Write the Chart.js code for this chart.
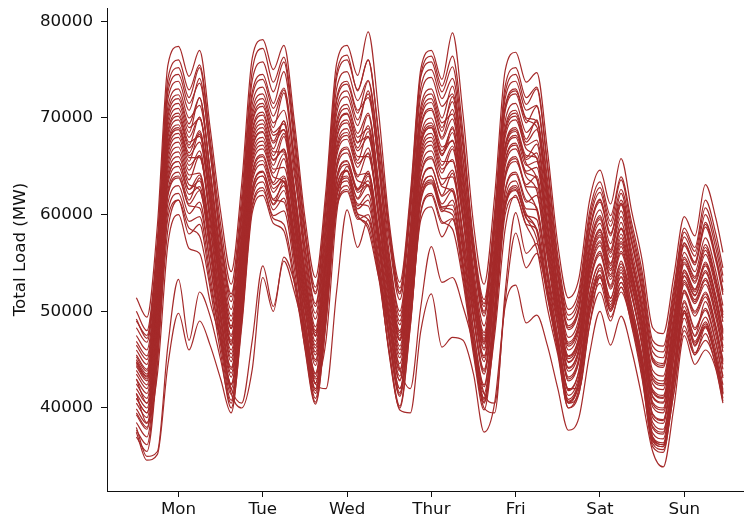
<!DOCTYPE html>
<html>
<head>
<meta charset="utf-8">
<script src="https://cdn.jsdelivr.net/npm/chart.js@4/dist/chart.umd.min.js"></script>
<style>
html,body{margin:0;padding:0;background:#ffffff;}
#wrap{width:744px;height:519px;}
</style>
</head>
<body>
<div id="wrap"><canvas id="c" width="744" height="519"></canvas></div>
<script>
// hour of the week (Mon 00:00 = 0)
const hours = [0,3,6,9,12,15,18,21,24,27,30,33,36,39,42,45,48,51,54,57,60,63,66,69,72,75,78,81,84,87,90,93,96,99,102,105,108,111,114,117,120,123,126,129,132,135,138,141,144,147,150,153,156,159,162,165,167];
const dayLabels = ['Mon','Tue','Wed','Thur','Fri','Sat','Sun'];
const dayTickHours = [12,36,60,84,108,132,156];
const yTicks = [40000,50000,60000,70000,80000];

// one array per week: total load (MW)
const wk01 = [51400,49400,58900,75500,77400,74300,77000,69000, 60300,54100,63200,76200,78100,75000,77500,69600, 59700,53500,62600,75600,77500,74400,78900,70500, 59200,53000,62100,75100,77000,74000,78800,70400, 59000,52800,61900,74900,76800,73700,74700,66800, 56900,51400,53400,61400,64600,61100,65800,60400, 55300,48300,47700,53600,59800,57800,63100,59600,56100];
const wk02 = [50000,48000,57500,74100,76000,72900,75500,67900, 59000,52800,61900,74900,77200,73700,76300,68600, 58700,52500,61600,74600,76500,72800,76000,68400, 58000,51800,60900,74300,75800,72700,75300,67600, 57400,51200,60300,73300,75200,72100,73200,65500, 55700,50200,52200,60200,63400,59900,63900,59200, 54100,47000,46400,52400,58600,56600,61500,58000,54500];
const wk03 = [49200,47200,56700,73300,75200,72100,75200,67300, 58000,51800,60900,73900,75800,72700,75800,67900, 58200,52000,61100,74100,76000,72900,76000,68100, 58600,52400,61500,74500,76400,73300,76400,68500, 56700,50500,59600,72600,74500,71400,73000,65000, 55100,49600,51600,59600,62800,59300,63600,58600, 53500,46400,45800,51900,58200,56200,60700,57200,53700];
const wk04 = [49000,47500,56700,72700,74500,71500,73600,66500, 57000,51000,59700,72200,74000,71000,73100,66000, 57800,51800,60500,73000,74800,71800,73900,66800, 58000,52000,60700,73200,75000,72000,74100,67000, 56800,50800,59500,72000,73800,70800,71300,63800, 54600,49100,51100,59100,62300,58800,62600,58100, 52900,45800,45200,51400,57700,55700,60000,56500,53000];
const wk05 = [48300,46800,56000,72000,73800,70800,74100,66400, 57500,51500,60200,72700,74500,71500,74800,67100, 56500,50500,59200,71700,73500,70500,73800,66100, 56000,50000,58700,71200,73000,70000,73300,65600, 55500,49500,58200,70700,72500,69500,71200,63100, 53600,48100,50100,58100,61300,57800,62200,57100, 51900,44800,44200,50400,56800,54800,58700,55200,51700];
const wk06 = [47500,46000,55200,71200,73000,70000,71300,64600, 55500,49500,58200,70700,72500,69500,70800,64100, 56800,50800,59500,72000,73800,70800,72100,65400, 57200,51200,59900,72400,74200,71200,72500,65800, 56000,50000,58700,71200,73000,70000,69700,62600, 54000,48500,50500,58400,61600,58100,61500,57400, 52300,45200,44600,50800,57100,55100,59200,55700,52200];
const wk07 = [46900,45400,54600,70600,72400,69400,72100,64700, 56200,50200,58900,71400,73200,70200,72900,65500, 55800,49800,58500,71000,72800,69800,72500,65100, 55000,49000,57700,70200,72000,69000,71700,64300, 54500,48500,57200,69700,71500,68500,69600,61800, 52800,47300,49300,57300,60500,57000,61100,56300, 51100,43900,43300,49600,56100,54100,57600,54100,50600];
const wk08 = [46500,45000,54200,70200,72000,69000,69900,63400, 54500,48500,57200,69700,71500,68500,69400,62900, 54000,48000,56700,69200,71000,68000,68900,62400, 55500,49500,58200,70700,72500,69500,70400,63900, 55800,49800,58500,71000,72800,69800,69100,62200, 53800,48300,50300,58300,61500,58000,61200,57300, 52100,45000,44400,50600,57000,55000,59000,55500,52000];
const wk09 = [46000,44500,53700,69700,71500,68500,72100,64300, 55000,49000,57700,70200,72000,69000,72600,64800, 55200,49200,57900,70400,72200,69200,72800,65000, 54600,48600,57300,69800,71600,68600,72200,64400, 53800,47800,56500,69000,70800,67800,69800,61600, 52300,46800,48800,56700,59900,56400,61000,55700, 50500,43400,42800,49100,55600,53600,56900,53400,49900];
const wk10 = [45500,44000,53200,69200,71000,68000,70100,63000, 53600,47600,56300,68800,70600,67600,69700,62600, 54400,48400,57100,69600,71400,68400,70500,63400, 53800,47800,56500,69000,70800,67800,69900,62800, 53200,47200,55900,68400,70200,67200,67700,60200, 51900,46400,48400,56300,59500,56000,59800,55300, 50100,42900,42300,48600,55100,53100,56300,52800,49300];
const wk11 = [45000,43500,52700,68700,70500,67500,68100,61800, 54200,48200,56900,69400,71200,68200,68800,62500, 53500,47500,56200,68700,70500,67500,68100,61800, 53000,47000,55700,68200,70000,67000,67600,61300, 52800,46800,55500,68000,69800,66800,65800,59100, 51500,46000,48000,55900,59100,55600,58600,54900, 49700,42500,41900,48300,54900,52900,55900,52400,48900];
const wk12 = [44700,43200,52400,68400,70200,67200,70100,62600, 52800,46800,55500,68000,69800,66800,69700,62200, 53400,47400,56100,68600,70400,67400,70300,62800, 54000,48000,56700,69200,71000,68000,70900,63400, 53500,47500,56200,68700,70500,67500,68800,60900, 52100,46600,48600,56500,59700,56200,60400,55500, 50300,43100,42500,48900,55400,53400,56600,53100,49600];
const wk13 = [45300,43800,52800,68000,69800,66900,68300,61800, 54000,48300,56700,68500,70300,67400,68800,62300, 53200,47500,55900,67700,69500,66600,68000,61500, 52900,47200,55600,67400,69200,66300,67700,61200, 52700,47000,55400,67200,69000,66100,65900,58700, 50900,45400,47400,55300,58500,55000,58500,54300, 49100,41900,41300,47700,54300,52300,55100,51600,48100];
const wk14 = [44800,43300,52300,67500,69300,66400,68700,61800, 52700,47000,55400,67200,69000,66100,68400,61500, 53500,47800,56200,68000,69800,66900,69200,62300, 53200,47500,55900,67700,69500,66600,68900,62000, 52300,46600,55000,66800,68600,65700,66400,58800, 50600,45100,47100,55000,58200,54700,58600,54000, 48800,41600,41000,47400,54000,52000,54700,51200,47700];
const wk15 = [44300,42800,51800,67000,68800,65900,65900,60100, 53100,47400,55800,67600,69400,66500,66500,60700, 52600,46900,55300,67100,68900,66000,66000,60200, 52100,46400,54800,66600,68400,65500,65500,59700, 51900,46200,54600,66400,68200,65300,63700,57200, 50300,44800,46800,54700,57900,54400,57200,53700, 48400,41200,40600,47100,53700,51700,54200,50700,47200];
const wk16 = [43900,42400,51400,66600,68400,65500,68500,61200, 51700,46000,54400,66200,68000,65100,68100,60800, 52200,46500,54900,66700,68500,65600,68600,61300, 52700,47000,55400,67200,69000,66100,69100,61800, 52500,46800,55200,67000,68800,65900,67300,59300, 50800,45300,47300,55200,58400,54900,59200,54200, 48900,41700,41100,47600,54200,52200,54900,51400,47900];
const wk17 = [43500,42000,51000,66200,68000,65100,66100,59800, 52300,46600,55000,66800,68600,65700,66700,60400, 51900,46200,54600,66400,68200,65300,66300,60000, 51300,45600,54000,65800,67600,64700,65700,59400, 50900,45200,53600,65400,67200,64300,63700,56700, 49600,44100,46100,53900,57100,53600,57000,52900, 47600,40400,39800,46300,53000,51000,53200,49700,46200];
const wk18 = [43000,41500,50500,65700,67500,64600,66600,59800, 50900,45200,53600,65400,67200,64300,66300,59500, 51500,45800,54200,66000,67800,64900,66900,60100, 51700,46000,54400,66200,68000,65100,67100,60300, 51100,45400,53800,65600,67400,64500,64900,57400, 49700,44200,46200,54100,57300,53800,57600,53100, 47800,40600,40000,46500,53200,51200,53400,49900,46400];
const wk19 = [42500,41000,50000,65200,67000,64100,64300,58400, 51300,45600,54000,65800,67600,64700,64900,59000, 50700,45000,53400,65200,67000,64100,64300,58400, 50300,44600,53000,64800,66600,63700,63900,58000, 50500,44800,53200,65000,66800,63900,62500,55900, 49300,43800,45800,53600,56800,53300,56200,52600, 47300,40100,39500,46000,52800,50800,52800,49300,45800];
const wk20 = [42000,40500,49500,64700,66500,63600,66100,59100, 49900,44200,52600,64400,66200,63300,65800,58800, 50500,44800,53200,65000,66800,63900,66400,59400, 50900,45200,53600,65400,67200,64300,66800,59800, 49700,44000,52400,64200,66000,63100,64000,56300, 48700,43200,45200,53000,56200,52700,56700,52000, 46700,39400,38800,45400,52200,50000,52000,48500,45000];
const wk21 = [41500,40000,49000,64200,66000,63100,62600,57100, 50500,44800,53200,65000,66800,63900,63400,57900, 50100,44400,52800,64600,66400,63500,63000,57500, 49500,43800,52200,64000,65800,62900,62400,56900, 49200,43500,51900,63700,65500,62600,60500,54300, 48300,42800,44800,52600,55800,52300,54900,51600, 46300,39000,38400,45100,51900,49500,51500,48000,44500];
const wk22 = [41000,39500,48500,63700,65500,62600,64100,57600, 48900,43200,51600,63400,65200,62300,63800,57300, 49300,43600,52000,63800,65600,62700,64200,57700, 49700,44000,52400,64200,66000,63100,64600,58100, 49500,43800,52200,64000,65800,62900,62800,55600, 48500,43000,45000,52800,56000,52500,56000,51800, 46500,39300,38700,45300,52100,49800,51800,48300,44800];
const wk23 = [40500,39000,48000,63200,65000,62100,62900,56700, 49300,43600,52000,63800,65600,62700,63500,57300, 48900,43200,51600,63400,65200,62300,63100,56900, 48500,42800,51200,63000,64800,61900,62700,56500, 48100,42400,50800,62600,64400,61500,60700,53800, 47400,41900,43900,51700,54900,51400,54600,50700, 45400,38100,37500,44200,51100,48300,50300,46800,43300];
const wk24 = [39900,38400,47400,62600,64400,61500,63800,56900, 47700,42000,50400,62200,64000,61100,63400,56500, 48300,42600,51000,62800,64600,61700,64000,57100, 48600,42900,51300,63100,64900,62000,64300,57400, 47900,42200,50600,62400,64200,61300,62000,54400, 47300,41800,43800,51600,54800,51300,55200,50600, 45200,37900,37300,44000,50900,48100,50100,46600,43100];
const wk25 = [39300,37800,46800,62000,63800,60900,60700,55000, 48100,42400,50800,62600,64400,61500,61300,55600, 47700,42000,50400,62200,64000,61100,60900,55200, 47300,41600,50000,61800,63600,60700,60500,54800, 46700,41000,49400,61200,63000,60100,58300,51900, 46400,40900,42900,50600,53800,50300,53000,49600, 44300,37000,36400,43200,50100,46900,48900,45400,41900];
const wk26 = [38500,37000,46000,61200,63000,60100,61300,54900, 47100,41400,49800,61600,63400,60500,61700,55300, 47500,41800,50200,62000,63800,60900,62100,55700, 46900,41200,49600,61400,63200,60300,61500,55100, 46500,40800,49200,61000,62800,59900,59500,52400, 46200,40700,42700,50500,53700,50200,53600,49500, 44100,36800,36200,43000,50000,46700,48700,45200,41700];
const wk27 = [37700,36200,45200,60400,62200,59300,59800,53800, 46500,40800,49200,61000,62800,59900,60400,54400, 46100,40400,48800,60600,62400,59500,60000,54000, 45700,40000,48400,60200,62000,59100,59600,53600, 46200,40500,48900,60700,62500,59600,58500,51800, 46000,40500,42500,50300,53500,50000,53000,49300, 43900,36600,36000,42800,49800,46400,48400,44900,41400];
const wk28 = [37000,35500,44500,59700,61500,58600,57800,52400, 45700,40000,48400,60200,62000,59100,58300,52900, 46300,40600,49000,60800,62600,59700,58900,53500, 45900,40200,48600,60400,62200,59300,58500,53100, 45500,39800,48200,60000,61800,58900,56500,50400, 45500,40000,42000,49700,52900,49400,52000,48700, 43300,36000,35400,42300,49300,45700,47700,44200,40700];
const wk29 = [38000,35000,35500,46500,53300,47000,52000,49500, 45000,40500,50000,62000,64000,61000,62500,56000, 48000,42500,51000,62700,64500,61600,63000,56500, 47700,42000,50400,62200,64000,61100,62500,56000, 47200,41500,49900,61700,63500,60600,60500,53300, 46800,41300,43300,51000,54200,50700,54300,50000, 44600,37400,36800,43600,50500,47400,49400,45900,42400];
const wk30 = [37500,34600,35200,44500,49800,46000,49000,46500, 43000,39500,48900,60700,62500,59600,59000,53500, 46700,41000,49400,61200,63000,60100,59500,54000, 47100,41400,49800,61600,63400,60500,60000,54500, 46300,40600,49000,60800,62600,59700,57500,51500, 46000,40600,42600,50300,53500,50000,52500,49000, 43800,36600,36000,42800,49800,46500,48500,45000,41500];
const wk31 = [43000,40500,46000,58500,61500,58000,59000,53000, 47000,42000,40500,47000,54700,50500,55200,52000, 47500,42500,42000,52000,60500,56600,59500,54500, 47500,42000,49000,59500,60800,57700,59500,54500, 46500,41000,47500,58500,62000,59000,58500,52000, 46000,40000,41500,48500,52000,49000,52500,48500, 43000,36300,35700,41500,48000,45500,48300,45000,41500];
const wk32 = [41500,38500,43500,57000,60000,56500,56000,51000, 47000,41500,40000,44000,53500,50000,55600,53000, 48000,43000,47000,60000,65000,62500,64500,58000, 52700,47000,55400,67200,69000,66100,68500,61500, 51700,46000,54400,66200,68000,65100,65500,58000, 50200,44700,46700,54500,57700,54200,58000,53500, 48300,41100,40500,47000,53600,51600,54000,50500,47000];
const wk33 = [39500,38000,47000,62200,64000,61100,62500,56000, 48200,42500,50900,62700,64500,61600,63000,56500, 47200,41500,49900,61700,63500,60600,61500,54500, 45500,39800,39500,48000,51800,46300,47300,47000, 43500,37500,40500,50500,52700,48800,49600,46500, 42000,37700,39000,45500,50000,46500,49500,46000, 41000,35500,33900,40000,47500,44500,46000,44000,40500];
const wk34 = [44500,43000,52000,67200,69000,66100,67500,61000, 52200,46500,54900,66700,68500,65600,66800,60000, 51000,45500,52500,62000,64500,60000,58500,53500, 49000,44000,42000,50500,56700,53000,53500,50500, 46500,41500,40500,51000,58100,54500,56000,52000, 47000,42000,42000,48500,53500,50500,54000,50000, 45000,38500,37800,43500,50000,47500,51000,47500,44000];
const wk35 = [41000,39500,48500,63700,65500,62600,63500,57500, 49700,44000,52400,64200,66000,63100,64000,58000, 49200,43500,51900,63700,65500,62600,63500,57500, 49000,43300,51500,62500,64000,60800,61000,54500, 46000,40000,39500,52000,60200,56000,57000,52500, 46500,40500,41500,49500,54500,51000,53500,49500, 44500,37000,36200,41500,48500,45500,47000,44500,41000];

const weeks = [wk01,wk02,wk03,wk04,wk05,wk06,wk07,wk08,wk09,wk10,wk11,wk12,wk13,wk14,wk15,wk16,wk17,wk18,wk19,wk20,wk21,wk22,wk23,wk24,wk25,wk26,wk27,wk28,wk29,wk30,wk31,wk32,wk33,wk34,wk35];

const LINE_COLOR = '#a52a2a';
const TEXT_COLOR = '#111111';
const AXIS_COLOR = '#111111';
const FONT = {family: "'DejaVu Sans', sans-serif", size: 16.7};

const datasets = weeks.map((w, i) => ({
  label: 'Week ' + (i + 1),
  data: w.map((v, j) => ({x: hours[j], y: v})),
  borderColor: LINE_COLOR,
  borderWidth: 1.2,
  pointRadius: 0,
  fill: false,
  cubicInterpolationMode: 'monotone'
}));

new Chart(document.getElementById('c'), {
  type: 'line',
  data: {datasets},
  options: {
    responsive: false,
    animation: false,
    devicePixelRatio: 1,
    layout: {padding: {top: 8, right: 0, bottom: 0, left: 0}},
    plugins: {legend: {display: false}, tooltip: {enabled: false}},
    scales: {
      x: {
        type: 'linear',
        min: -8.35,
        max: 173,
        afterBuildTicks: s => { s.ticks = dayTickHours.map(v => ({value: v})); },
        afterFit: s => { s.height = 28; s.paddingLeft = 0; s.paddingRight = 0; },
        ticks: {
          callback: v => dayLabels[dayTickHours.indexOf(v)],
          font: FONT, color: TEXT_COLOR, padding: 3, maxRotation: 0, autoSkip: false
        },
        grid: {display: true, drawOnChartArea: false, drawTicks: true, tickLength: 6, color: AXIS_COLOR, tickWidth: 1},
        border: {display: true, color: AXIS_COLOR, width: 1}
      },
      y: {
        type: 'linear',
        min: 31414,
        max: 81376,
        afterBuildTicks: s => { s.ticks = yTicks.map(v => ({value: v})); },
        afterFit: s => { s.width = 107; s.paddingTop = 0; s.paddingBottom = 0; },
        ticks: {
          callback: v => String(v),
          font: FONT, color: TEXT_COLOR, padding: 8
        },
        title: {display: true, text: 'Total Load (MW)', font: FONT, color: TEXT_COLOR, padding: {top: 11, bottom: 0}},
        grid: {display: true, drawOnChartArea: false, drawTicks: true, tickLength: 6, color: AXIS_COLOR, tickWidth: 1},
        border: {display: true, color: AXIS_COLOR, width: 1}
      }
    }
  }
});
</script>
</body>
</html>
